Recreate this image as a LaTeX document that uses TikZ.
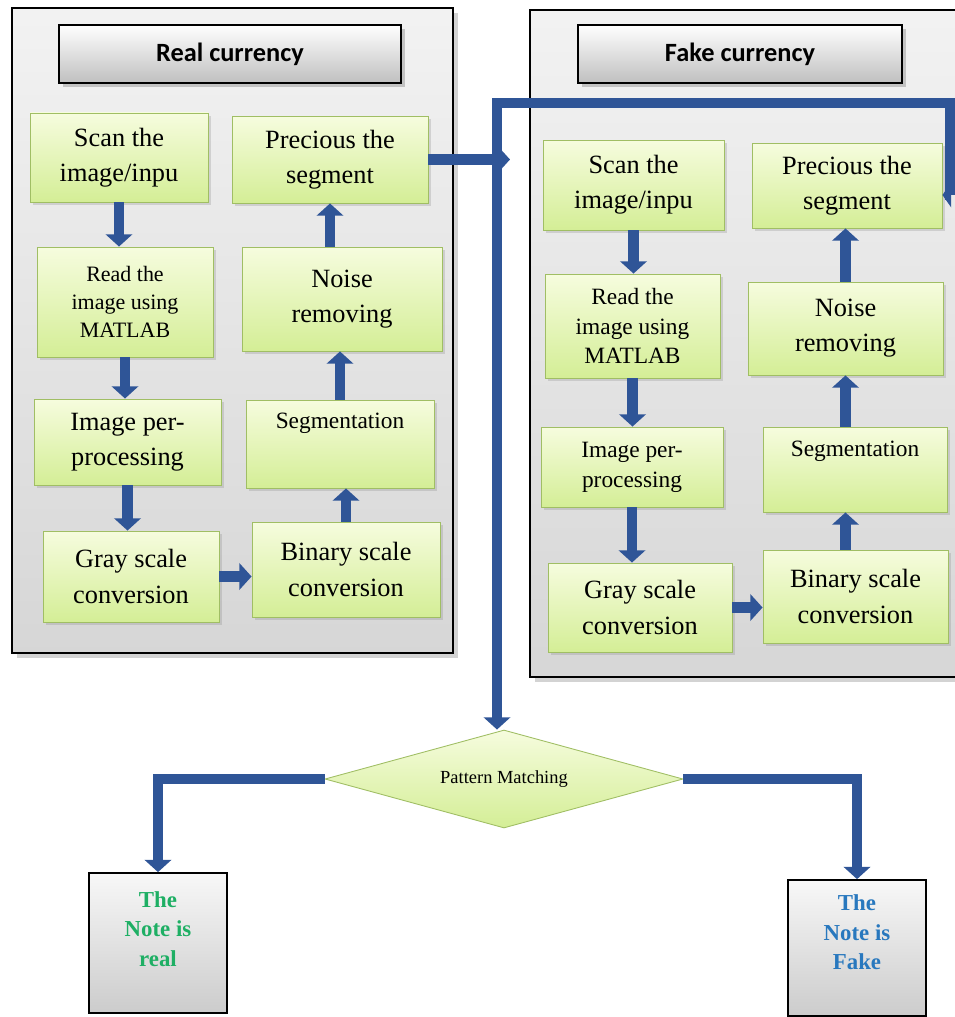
\documentclass[tikz,border=0pt]{standalone}
\usepackage{fontspec}
\setmainfont{Liberation Serif}
\newfontfamily\headfont{Carlito}
\usetikzlibrary{shapes.geometric,arrows.meta,shadows,positioning}

\definecolor{arrowblue}{RGB}{47,85,151}
\definecolor{procTop}{RGB}{246,252,222}
\definecolor{procBot}{RGB}{212,238,150}
\definecolor{procLine}{RGB}{160,190,100}
\definecolor{noteGreen}{RGB}{30,175,100}
\definecolor{noteBlue}{RGB}{40,120,190}

\tikzset{
    boxsize/.style 2 args={minimum width=#1*0.02cm, minimum height=#2*0.02cm},
    panel/.style={draw=black, line width=0.8pt, top color=gray!10, bottom color=gray!32,
        drop shadow={shadow xshift=3pt, shadow yshift=-3pt, opacity=0.35}},
    headbox/.style={draw=black, line width=1pt, top color=white, bottom color=gray!50,
        font=\headfont\bfseries\fontsize{15}{18}\selectfont,
        drop shadow={shadow xshift=2pt, shadow yshift=-2pt, opacity=0.4}},
    proc/.style={draw=procLine, line width=0.5pt, top color=procTop, bottom color=procBot,
        align=center, inner sep=0pt, font=\fontsize{15}{20}\selectfont,
        drop shadow={shadow xshift=1.5pt, shadow yshift=-1.5pt, opacity=0.25}},
    smalltext/.style={font=\fontsize{12.5}{16}\selectfont},
    midtext/.style={font=\fontsize{13.3}{17}\selectfont},
    decision/.style={diamond, aspect=3.6, inner sep=0pt, draw=procLine, line width=0.5pt,
        top color=procTop, bottom color=procBot, font=\fontsize{10.5}{12}\selectfont},
    result/.style={draw=black, line width=1pt, top color=gray!6, bottom color=gray!40,
        align=center, font=\bfseries\fontsize{13}{17}\selectfont},
    flow/.style={draw=arrowblue, line width=6pt, -{Triangle[width=15pt,length=7pt]}},
    flowloop/.style={draw=arrowblue, line width=6pt,
        {Triangle[width=14pt,length=5pt]}-{Triangle[width=15pt,length=7pt]}}
}

\begin{document}
\begin{tikzpicture}[x=0.02cm, y=-0.02cm]
    \useasboundingbox (0,0) rectangle (955,1017);

    % Panels
    \node[panel, boxsize={441}{645}] (realPanel) at (232.5,330.5) {};
    \node[panel, boxsize={445}{667}] (fakePanel) at (752.5,343.5) {};
    \node[headbox, boxsize={342}{58}] (realHead) at (230,54) {Real currency};
    \node[headbox, boxsize={324}{58}] (fakeHead) at (740,54) {Fake currency};

    % Real currency steps
    \node[proc, boxsize={178}{89}] (scanL) at (119,157.5) {Scan the\\image/inpu};
    \node[proc, smalltext, boxsize={176}{110}] (readL) at (125,302) {Read the\\image using\\MATLAB};
    \node[proc, boxsize={187}{86}] (imgL) at (127.5,442) {Image per-\\processing};
    \node[proc, boxsize={176}{91}] (grayL) at (131,576.5) {Gray scale\\conversion};
    \node[proc, boxsize={188}{95}] (binL) at (346,569.5) {Binary scale\\conversion};
    \node[proc, midtext, boxsize={188}{88}, text depth=26pt] (segL) at (340,444) {Segmentation};
    \node[proc, boxsize={200}{104}] (noiseL) at (342,299) {Noise\\removing};
    \node[proc, boxsize={196}{87}] (precL) at (330,159.5) {Precious the\\segment};

    % Fake currency steps
    \node[proc, boxsize={181}{90}] (scanR) at (633.5,185) {Scan the\\image/inpu};
    \node[proc, midtext, boxsize={175}{104}] (readR) at (632.5,326) {Read the\\image using\\MATLAB};
    \node[proc, midtext, boxsize={182}{80}] (imgR) at (632,467) {Image per-\\processing};
    \node[proc, boxsize={184}{89}] (grayR) at (640,607.5) {Gray scale\\conversion};
    \node[proc, boxsize={185}{93}] (binR) at (855.5,596.5) {Binary scale\\conversion};
    \node[proc, midtext, boxsize={184}{85}, text depth=24pt] (segR) at (855,469.5) {Segmentation};
    \node[proc, boxsize={195}{93}] (noiseR) at (845.5,328.5) {Noise\\removing};
    \node[proc, boxsize={190}{85}] (precR) at (847,185.5) {Precious the\\segment};

    % Decision and results
    \node[decision, boxsize={358}{98}] (match) at (504,779) {Pattern Matching};
    \node[result, boxsize={138}{140}, text=noteGreen, text depth=16pt] (realNote) at (158,943) {The\\Note is\\real};
    \node[result, boxsize={138}{136}, text=noteBlue, text depth=18pt] (fakeNote) at (857,948) {The\\Note is\\Fake};

    % Arrows inside real panel
    \draw[flow] (scanL.south) -- (scanL.south |- readL.north);
    \draw[flow] (readL.south) -- (readL.south |- imgL.north);
    \draw[flow] (imgL.south) -- (imgL.south |- grayL.north);
    \draw[flow] (grayL.east) -- (grayL.east -| binL.west);
    \draw[flow] (binL.north) -- (binL.north |- segL.south);
    \draw[flow] (segL.north) -- (segL.north |- noiseL.south);
    \draw[flow] (precL.south |- noiseL.north) -- (precL.south);

    % Arrows inside fake panel
    \draw[flow] (scanR.south) -- (scanR.south |- readR.north);
    \draw[flow] (readR.south) -- (readR.south |- imgR.north);
    \draw[flow] (imgR.south) -- (imgR.south |- grayR.north);
    \draw[flow] (grayR.east) -- (grayR.east -| binR.west);
    \draw[flow] (noiseR.south |- binR.north) -- (noiseR.south |- segR.south);
    \draw[flow] (noiseR.south |- segR.north) -- (noiseR.south);
    \draw[flow] (noiseR.north) -- (noiseR.north |- precR.south);

    % Joining both panels into the matching step
    \coordinate (trunkTop) at (497,103);
    \coordinate (loopR) at (950,103);
    \coordinate (loopRd) at (950,195);
    \coordinate (joinL) at (510,159.5);
    \draw[flowloop] (precR.east |- loopRd) -- (loopRd) -- (loopR) -- (trunkTop) -- (trunkTop |- match.north);
    \draw[flow] (precL.east) -- (joinL);

    % Outcomes
    \draw[flow] (match.west) -| (realNote.north);
    \draw[flow] (match.east) -| (fakeNote.north);
\end{tikzpicture}
\end{document}
